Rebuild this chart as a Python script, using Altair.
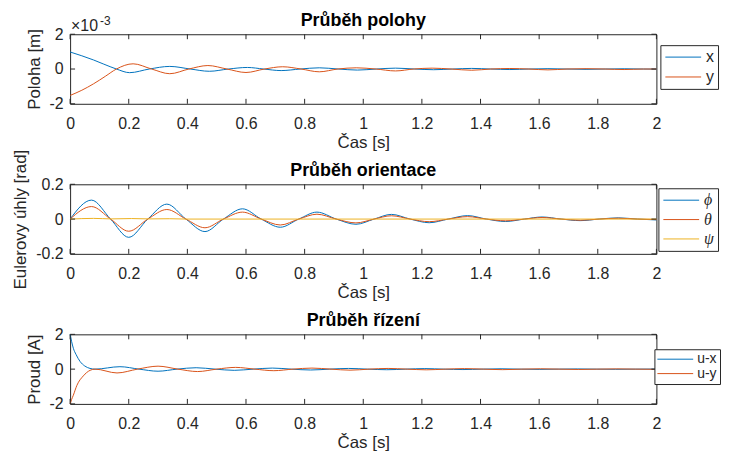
import altair as alt
import pandas as pd

FONT = "Liberation Sans"
TXT = "#262626"
C_BLUE, C_RED, C_YEL = "#0072BD", "#D95319", "#EDB120"

x_ticks = [0, 0.2, 0.4, 0.6, 0.8, 1.0, 1.2, 1.4, 1.6, 1.8, 2.0]

# Panel 1: position, values in units of 1e-3 m
pos_x_t = [0, 0.04, 0.08, 0.115, 0.158, 0.203, 0.27, 0.34, 0.41, 0.475, 0.54, 0.605, 0.66, 0.72,
           0.785, 0.85, 0.915, 0.98, 1.045, 1.11, 1.175, 1.24, 1.305, 1.37, 1.435, 1.5, 1.565,
           1.63, 1.695, 1.76, 1.825, 1.89, 1.955, 2.0]
pos_x_v = [0.98, 0.76, 0.52, 0.28, 0, -0.21, 0, 0.15, 0, -0.13, 0, 0.09, 0, -0.09,
           0, 0.07, 0, -0.06, 0, 0.05, 0, -0.04, 0, 0.035, 0, -0.03, 0,
           0.02, 0, -0.02, 0, 0.015, 0, -0.005]
pos_y_t = [0, 0.04, 0.08, 0.12, 0.158, 0.215, 0.278, 0.34, 0.405, 0.47, 0.535, 0.6, 0.663, 0.725,
           0.788, 0.85, 0.913, 0.976, 1.043, 1.11, 1.172, 1.235, 1.3, 1.37, 1.435, 1.5, 1.565,
           1.63, 1.695, 1.76, 1.825, 1.89, 1.955, 2.0]
pos_y_v = [-1.52, -1.22, -0.85, -0.42, 0, 0.30, 0, -0.27, 0, 0.20, 0, -0.20, 0, 0.13,
           0, -0.16, 0, 0.07, 0, -0.11, 0, 0.05, 0, -0.07, 0, 0.03, 0,
           -0.05, 0, 0.02, 0, -0.03, 0, 0.0]
pos_yticks = [-2, 0, 2]

# Panel 2: Euler angles [rad]
ang_t = [0, 0.073, 0.138, 0.2, 0.265, 0.33, 0.395, 0.46, 0.523, 0.588, 0.652, 0.717, 0.78, 0.842,
         0.908, 0.975, 1.037, 1.096, 1.16, 1.225, 1.29, 1.356, 1.42, 1.485, 1.55, 1.61, 1.675,
         1.74, 1.805, 1.87, 1.935, 2.0]
phi_v = [0, 0.109, 0, -0.105, 0, 0.086, 0, -0.072, 0, 0.059, 0, -0.047, 0, 0.04,
         0, -0.03, 0, 0.027, 0, -0.021, 0, 0.02, 0, -0.014, 0, 0.012, 0,
         -0.009, 0, 0.007, 0, -0.005]
theta_v = [0, 0.072, 0, -0.07, 0, 0.055, 0, -0.05, 0, 0.04, 0, -0.034, 0, 0.028,
           0, -0.022, 0, 0.019, 0, -0.015, 0, 0.014, 0, -0.01, 0, 0.009, 0,
           -0.007, 0, 0.005, 0, -0.003]
psi_t = [0, 0.08, 0.14, 0.21, 0.27, 0.34, 0.4, 2.0]
psi_v = [0, 0.004, 0.001, 0.003, 0.001, 0.002, 0, 0]
ang_yticks = [-0.2, 0, 0.2]

# Panel 3: control currents [A]
ux_t = [0, 0.005, 0.011, 0.02, 0.034, 0.05, 0.068, 0.085, 0.17, 0.235, 0.3, 0.365, 0.43, 0.495,
        0.56, 0.625, 0.69, 0.755, 0.82, 0.885, 0.95, 1.015, 1.08, 1.145, 1.21, 1.275, 1.34,
        1.405, 1.47, 1.535, 1.6, 1.665, 1.73, 1.795, 1.86, 1.93, 2.0]
ux_v = [2.0, 1.6, 1.2, 0.85, 0.44, 0.18, 0.04, 0.0, 0.14, 0, -0.12, 0, 0.08, 0,
        -0.07, 0, 0.06, 0, -0.05, 0, 0.04, 0, -0.035, 0, 0.03, 0, -0.025,
        0, 0.02, 0, -0.015, 0, 0.012, 0, -0.01, 0, 0.005]
uy_t = [0, 0.005, 0.011, 0.023, 0.045, 0.068, 0.085, 0.16, 0.23, 0.3, 0.368, 0.435, 0.5, 0.565,
        0.63, 0.695, 0.76, 0.825, 0.89, 0.955, 1.02, 1.085, 1.15, 1.215, 1.28, 1.345, 1.41,
        1.475, 1.54, 1.605, 1.67, 1.735, 1.8, 1.865, 1.93, 2.0]
uy_v = [-2.0, -1.75, -1.5, -0.94, -0.39, -0.07, 0.0, -0.22, 0, 0.17, 0, -0.14, 0, 0.10,
        0, -0.09, 0, 0.06, 0, -0.06, 0, 0.04, 0, -0.04, 0, 0.03, 0,
        -0.03, 0, 0.02, 0, -0.02, 0, 0.015, 0, -0.01]
cur_yticks = [-2, 0, 2]

titles = ["Průběh polohy", "Průběh orientace", "Průběh řízení"]

W, H = 590, 70
FIX = "replace(datum.label, '\u2212', '-')"


def long(series):
    rows = []
    for name, ts, vs in series:
        for t, v in zip(ts, vs):
            rows.append({"t": t, "v": v, "s": name})
    return pd.DataFrame(rows)


def panel(df, names, colors, ydom, yticks, ytitle, title, leg, label_font=FONT,
          label_style="normal", label_size=16, extra=None):
    xs = alt.Scale(domain=[0, 2], nice=False, zero=False)
    ys = alt.Scale(domain=ydom, nice=False, zero=False)
    xa = alt.Axis(values=x_ticks, title="Čas [s]", format=".1~f", labelExpr=FIX)
    ya = alt.Axis(values=yticks, title=ytitle, format=".1~f", labelExpr=FIX)
    lines = alt.Chart(df).mark_line(strokeWidth=1, interpolate="monotone").encode(
        x=alt.X("t:Q", scale=xs, axis=xa),
        y=alt.Y("v:Q", scale=ys, axis=ya),
        color=alt.Color("s:N", scale=alt.Scale(domain=names, range=colors),
                        sort=names,
                        legend=alt.Legend(orient="none", title=None, symbolType="M-3,0H3",
                                          symbolSize=144, symbolStrokeWidth=1,
                                          symbolOffset=11, labelOffset=15,
                                          strokeColor=TXT, fillColor="white",
                                          labelFont=label_font, labelFontStyle=label_style,
                                          labelFontSize=label_size, labelColor=TXT,
                                          direction="vertical", **leg)),
    )
    xt = pd.DataFrame({"t": x_ticks})
    yt = pd.DataFrame({"v": yticks})
    tick_top = alt.Chart(xt).mark_rule(color=TXT, strokeWidth=1).encode(
        x=alt.X("t:Q", scale=xs, axis=xa), y=alt.value(0), y2=alt.value(5))
    tick_bot = alt.Chart(xt).mark_rule(color=TXT, strokeWidth=1).encode(
        x=alt.X("t:Q", scale=xs, axis=xa), y=alt.value(H - 5), y2=alt.value(H))
    tick_l = alt.Chart(yt).mark_rule(color=TXT, strokeWidth=1).encode(
        y=alt.Y("v:Q", scale=ys, axis=ya), x=alt.value(0), x2=alt.value(5))
    tick_r = alt.Chart(yt).mark_rule(color=TXT, strokeWidth=1).encode(
        y=alt.Y("v:Q", scale=ys, axis=ya), x=alt.value(W - 5), x2=alt.value(W))
    ttl = alt.Chart(pd.DataFrame({"title": [title]})).mark_text(
        align="center", baseline="alphabetic", font=FONT, fontSize=18, fontWeight="bold",
        color="black").encode(text="title:N", x=alt.value(W / 2), y=alt.value(-8.5))
    layers = [lines, tick_top, tick_bot, tick_l, tick_r, ttl]
    if extra:
        layers += extra
    return alt.layer(*layers).properties(width=W, height=H)


one = pd.DataFrame({"a": [0]})
exp_a = alt.Chart(one).mark_text(text="×10", align="left", baseline="alphabetic", font=FONT,
                                 fontSize=16, color=TXT).encode(x=alt.value(1), y=alt.value(-3))
exp_b = alt.Chart(one).mark_text(text="-3", align="left", baseline="alphabetic", font=FONT,
                                 fontSize=12, color=TXT).encode(x=alt.value(30), y=alt.value(-9))

p1 = panel(long([("x", pos_x_t, pos_x_v), ("y", pos_y_t, pos_y_v)]), ["x", "y"],
           [C_BLUE, C_RED], [-2, 2], pos_yticks, "Poloha [m]", titles[0],
           dict(legendX=594, legendY=11, padding=4, rowPadding=4),
           extra=[exp_a, exp_b])
p2 = panel(long([("ϕ", ang_t, phi_v), ("θ", ang_t, theta_v), ("ψ", psi_t, psi_v)]),
           ["ϕ", "θ", "ψ"], [C_BLUE, C_RED, C_YEL], [-0.2, 0.2], ang_yticks,
           "Eulerovy úhly [rad]", titles[1],
           dict(legendX=592, legendY=4, padding=4, rowPadding=3.5),
           label_font="Liberation Serif", label_style="italic")
p3 = panel(long([("u-x", ux_t, ux_v), ("u-y", uy_t, uy_v)]), ["u-x", "u-y"],
           [C_BLUE, C_RED], [-2, 2], cur_yticks, "Proud [A]", titles[2],
           dict(legendX=588, legendY=15, padding=3, rowPadding=0.5), label_size=14)

chart = alt.vconcat(p1, p2, p3, spacing=81, bounds="flush").resolve_scale(
    color="independent", x="independent", y="independent"
).resolve_legend(color="independent").properties(
    padding={"left": 2.5, "top": 2, "right": 0, "bottom": 0}, background="white"
).configure_view(stroke=TXT, strokeWidth=1).configure_axis(
    grid=False, domain=False, ticks=False, labelFont=FONT, labelFontSize=16, labelColor=TXT,
    titleFont=FONT, titleFontSize=17, titleFontWeight="normal", titleColor=TXT,
    labelFlush=False, labelOverlap=False
).configure_axisX(labelPadding=12, titlePadding=3).configure_axisY(labelPadding=7, titlePadding=6)

chart.save("out.html", embed_options={"renderer": "svg", "actions": False})
